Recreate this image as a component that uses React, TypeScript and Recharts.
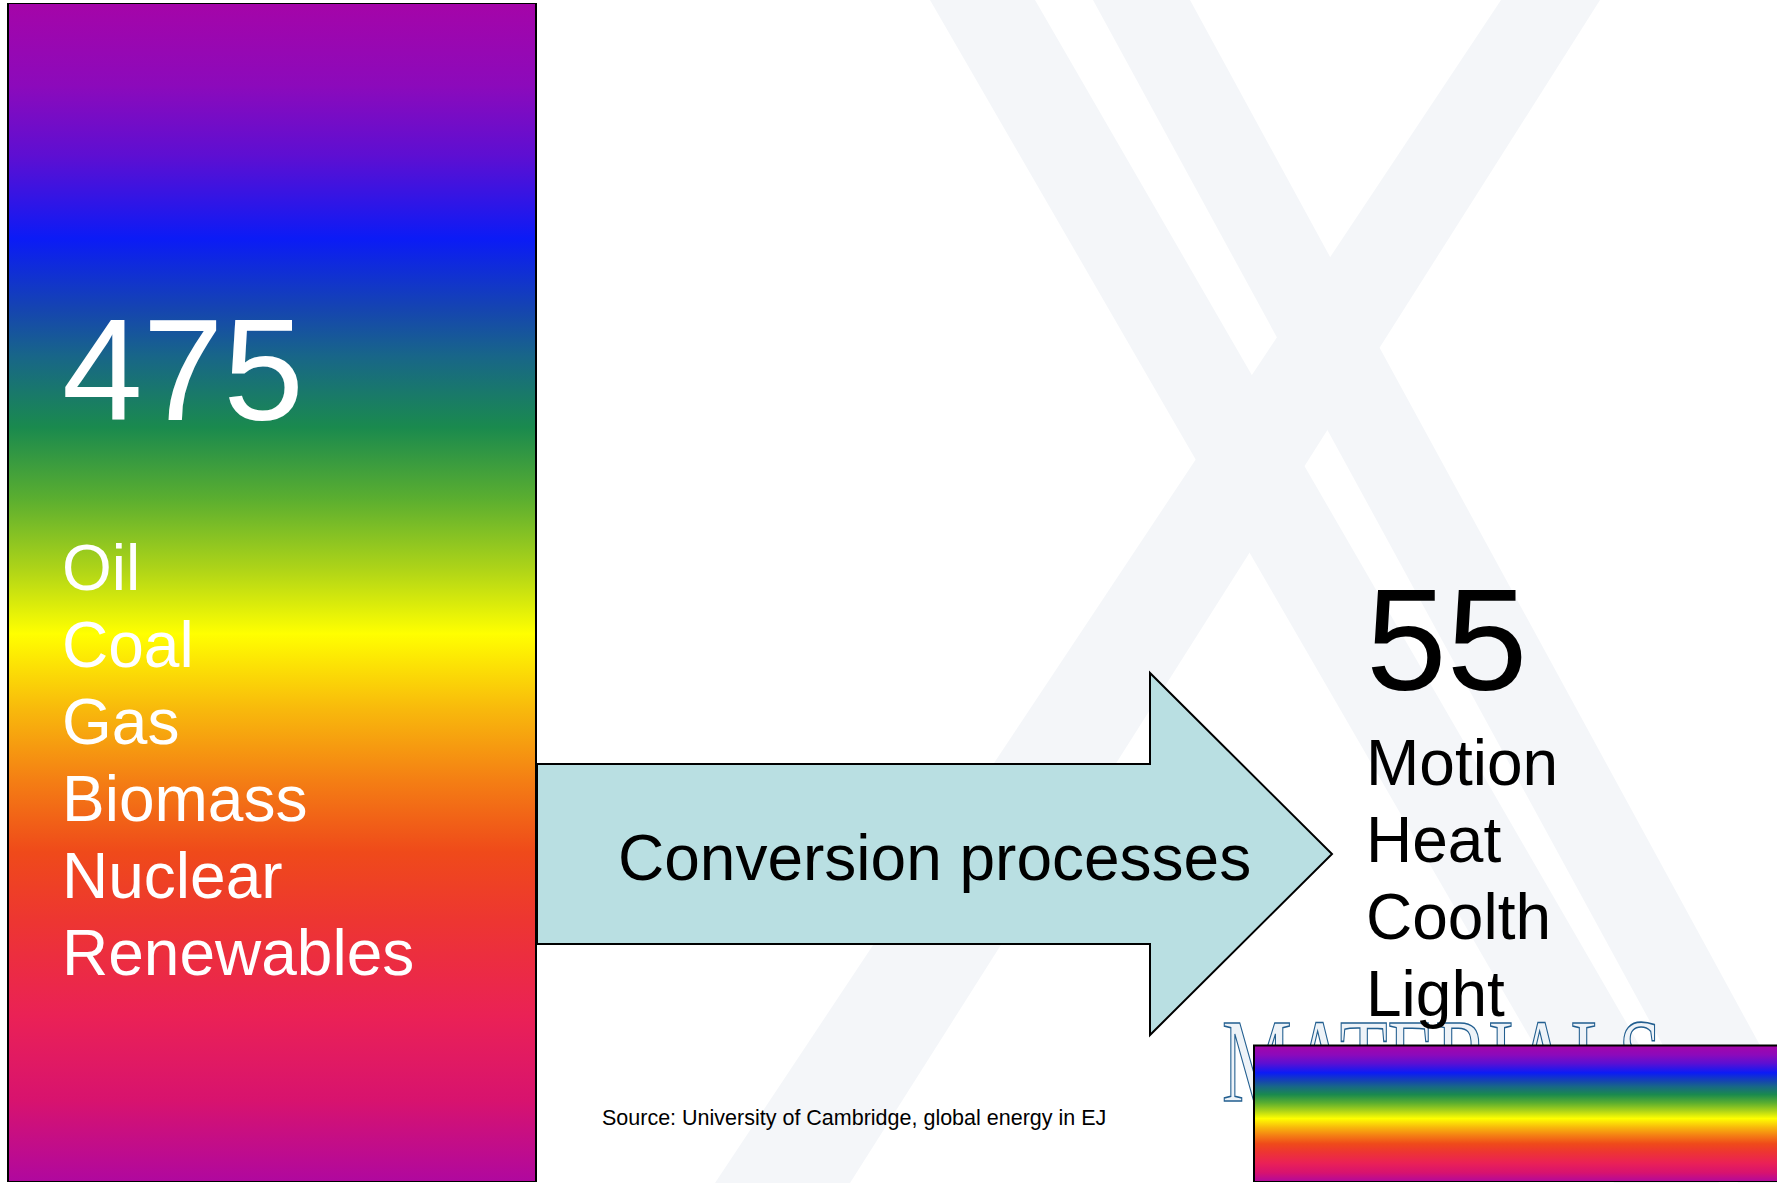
import React from 'react';
import { BarChart, Bar, XAxis, YAxis, LabelList } from 'recharts';

// ---------- data ----------
const categories = ['Primary energy', 'Useful energy'];
const energyEJ = [475, 55];
const sourceLabels = ['Oil', 'Coal', 'Gas', 'Biomass', 'Nuclear', 'Renewables'];
const useLabels = ['Motion', 'Heat', 'Coolth', 'Light'];
const arrowLabel = 'Conversion processes';
const sourceNote = 'Source: University of Cambridge, global energy in EJ';
const watermarkWord = 'MATERIALS';

const data = categories.map((c, i) => ({ name: c, value: energyEJ[i] }));

const FONT = '"Liberation Sans", Arial, Helvetica, sans-serif';

const rainbowStops: [number, string][] = [
  [0, '#a505a8'],
  [0.07, '#8c0abb'],
  [0.13, '#5d0fd2'],
  [0.2, '#0b1bf6'],
  [0.26, '#1545b0'],
  [0.3, '#186688'],
  [0.36, '#1a8a4e'],
  [0.42, '#5aae30'],
  [0.48, '#aed418'],
  [0.535, '#ffff00'],
  [0.6, '#f8b80c'],
  [0.66, '#f47e14'],
  [0.72, '#ef4a1a'],
  [0.78, '#ed3532'],
  [0.86, '#ea2156'],
  [0.93, '#d8136e'],
  [1, '#b0089f'],
];

const renderLabel = (props: any) => {
  const { x, value } = props;
  let i = typeof props.index === 'number' ? props.index : energyEJ.indexOf(Number(value));
  if (i < 0) i = 0;
  if (i === 0) {
    const tx = Number(x) + 54;
    return (
      <g key="lab0">
        <text x={tx} y={417} fill="#ffffff" fontSize={145} fontFamily={FONT}>
          {value}
        </text>
        {sourceLabels.map((s, k) => (
          <text key={s} x={tx} y={587 + k * 77} fill="#ffffff" fontSize={64} fontFamily={FONT}>
            {s}
          </text>
        ))}
      </g>
    );
  }
  const tx = Number(x) + 112;
  return (
    <g key="lab1">
      <text x={tx} y={687} fill="#000000" fontSize={145} fontFamily={FONT}>
        {value}
      </text>
      {useLabels.map((s, k) => (
        <text key={s} x={tx} y={782 + k * 77} fill="#000000" fontSize={64} fontFamily={FONT}>
          {s}
        </text>
      ))}
    </g>
  );
};

export default function App() {
  return (
    <div
      style={{
        position: 'absolute',
        left: 0,
        top: 0,
        width: 1777,
        height: 1183,
        overflow: 'hidden',
        background: '#ffffff',
      }}
    >
      {/* watermark */}
      <svg width={1777} height={1183} style={{ position: 'absolute', left: 0, top: 0 }}>
        <polygon points="930,0 1035,0 1719,1183 1614,1183" fill="#f4f6f9" />
        <polygon points="1093,0 1190,0 1835,1183 1738,1183" fill="#f4f6f9" />
        <polygon points="1501,0 1600,0 850,1183 715,1183" fill="#f4f6f9" />
        <text
          x={1222}
          y={1101}
          fontSize={118}
          fontFamily='"Liberation Serif", "DejaVu Serif", serif'
          textLength={440}
          lengthAdjust="spacingAndGlyphs"
          fill="#eef3f8"
          stroke="#235f90"
          strokeWidth={1.6}
        >
          {watermarkWord}
        </text>
      </svg>

      {/* bar chart */}
      <div style={{ position: 'absolute', left: -351, top: 3 }}>
        <BarChart
          width={2492}
          height={1179}
          data={data}
          margin={{ top: 0, right: 0, bottom: 0, left: 0 }}
        >
          <defs>
            <linearGradient id="rainbow" x1="0" y1="0" x2="0" y2="1">
              {rainbowStops.map(([o, c]) => (
                <stop key={o} offset={o} stopColor={c} />
              ))}
            </linearGradient>
          </defs>
          <XAxis dataKey="name" hide />
          <YAxis hide domain={[0, 475]} />
          <Bar
            dataKey="value"
            barSize={528}
            fill="url(#rainbow)"
            stroke="#000000"
            strokeWidth={2}
            isAnimationActive={false}
          >
            <LabelList dataKey="value" content={renderLabel} />
          </Bar>
        </BarChart>
      </div>

      {/* arrow annotation */}
      <svg width={1777} height={1183} style={{ position: 'absolute', left: 0, top: 0 }}>
        <polygon
          points="537,764 1150,764 1150,673 1332,854 1150,1035 1150,944 537,944"
          fill="#b9dfe2"
          stroke="#000000"
          strokeWidth={2}
          strokeLinejoin="miter"
        />
        <text x={618} y={880} fontSize={64} fontFamily={FONT} fill="#000000">
          {arrowLabel}
        </text>
        <text x={602} y={1125} fontSize={21.5} fontFamily={FONT} fill="#000000">
          {sourceNote}
        </text>
      </svg>
    </div>
  );
}
